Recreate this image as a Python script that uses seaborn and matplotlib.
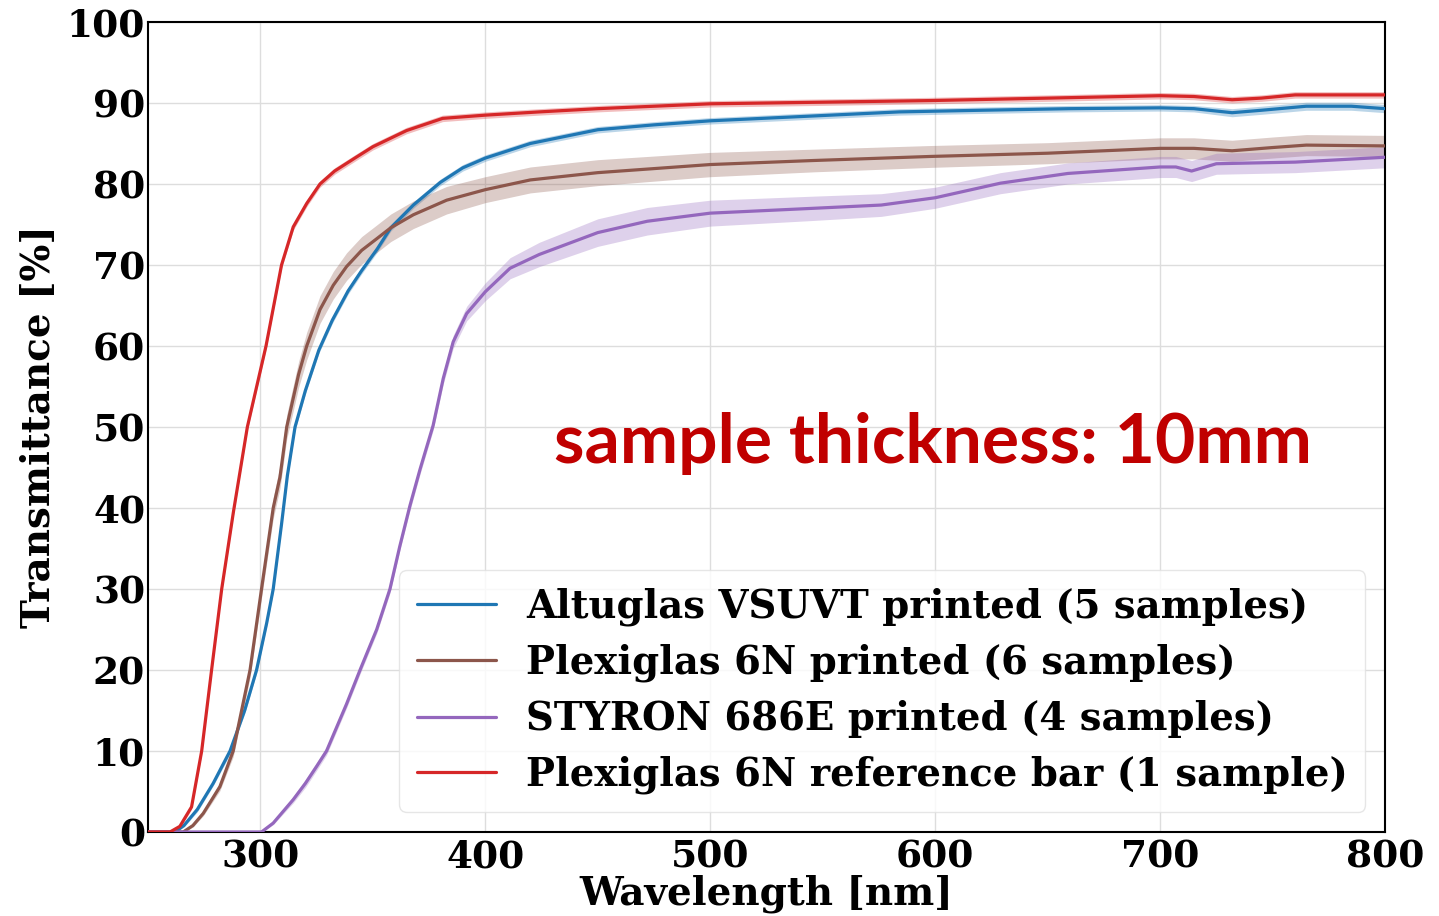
import numpy as np
import pandas as pd
import matplotlib
matplotlib.use("Agg")
import matplotlib.pyplot as plt
import seaborn as sns

# ---------------- data ----------------
labels = [
    "Altuglas VSUVT printed (5 samples)",
    "Plexiglas 6N printed (6 samples)",
    "STYRON 686E printed (4 samples)",
    "Plexiglas 6N reference bar (1 sample)",
]
colors = ["#1f77b4", "#8c564b", "#9467bd", "#d62728"]

alt_x = [250, 262, 266, 272, 279, 286.5, 293, 298.3, 302.8, 305.7, 309.4, 312, 315.4, 320, 326,
         332, 339, 345, 352, 358, 368, 380, 390, 400, 420, 450, 475, 500, 546, 584, 620, 660,
         700, 715, 732, 745, 765, 785, 800]
alt_y = [0, 0, 0.8, 2.8, 6, 10, 15, 20, 25.8, 30, 38, 44, 50, 54.5, 59.5,
         63.2, 66.8, 69.3, 72.0, 74.6, 77.4, 80.2, 82, 83.2, 85.0, 86.7, 87.3, 87.8, 88.4, 88.9, 89.1, 89.3,
         89.4, 89.3, 88.8, 89.1, 89.6, 89.6, 89.3]
alt_err = [0, 0, 0.2, 0.3, 0.3, 0.4, 0.4, 0.4, 0.4, 0.4, 0.4, 0.4, 0.4, 0.4, 0.4,
           0.4, 0.4, 0.4, 0.4, 0.4, 0.4, 0.4, 0.4, 0.4, 0.4, 0.4, 0.4, 0.4, 0.4, 0.4, 0.4, 0.4,
           0.4, 0.4, 0.5, 0.5, 0.5, 0.5, 0.5]

plx_x = [250, 265.7, 270, 274.6, 282, 287.9, 295.4, 300.5, 305.7, 308.7, 311.7, 317, 320.6, 326.5,
         332.4, 338.3, 345, 352, 358, 368, 382.8, 400, 420, 450, 500, 546, 598, 650, 700, 715,
         732, 750, 765, 800]
plx_y = [0, 0, 0.8, 2.3, 5.6, 10, 20, 30, 40, 43.8, 50, 56.5, 60, 64.5,
         67.5, 69.8, 71.8, 73.3, 74.6, 76.2, 78.0, 79.3, 80.5, 81.4, 82.4, 82.9, 83.4, 83.8, 84.4, 84.4,
         84.1, 84.5, 84.8, 84.7]
plx_err = [0, 0, 0.2, 0.3, 0.5, 0.7, 0.9, 1.1, 1.3, 1.4, 1.5, 1.6, 1.7, 1.7,
           1.7, 1.7, 1.7, 1.7, 1.7, 1.7, 1.7, 1.6, 1.6, 1.6, 1.5, 1.4, 1.35, 1.3, 1.3, 1.3,
           1.3, 1.3, 1.3, 1.3]

sty_x = [250, 300.5, 305.7, 314.6, 320, 325, 329.4, 338.3, 344.3, 351.7, 357.6, 362, 366.5, 371,
         376.8, 381.3, 385.7, 391.7, 400, 411, 424, 450, 472, 500, 546, 576, 600, 629, 659, 700,
         707, 714, 725, 742, 760, 780, 800]
sty_y = [0, 0, 1.1, 4, 6, 8.1, 10, 15.8, 20, 25, 30, 35.3, 40.3, 44.8,
         50.2, 56, 60.5, 64, 66.7, 69.6, 71.3, 74, 75.4, 76.4, 77, 77.4, 78.3, 80.1, 81.3, 82.1,
         82.1, 81.6, 82.5, 82.6, 82.7, 83.0, 83.3]
sty_err = [0, 0, 0.2, 0.4, 0.5, 0.5, 0.5, 0.5, 0.5, 0.5, 0.5, 0.5, 0.6, 0.6,
           0.6, 0.7, 0.8, 0.9, 1.1, 1.3, 1.5, 1.7, 1.7, 1.6, 1.5, 1.4, 1.3, 1.3, 1.3, 1.3,
           1.3, 1.3, 1.3, 1.3, 1.3, 1.3, 1.3]

ref_x = [250, 259.8, 264.2, 269.4, 273.9, 278.3, 282.8, 288, 294.2, 302.5, 309.4, 314.6,
         320.6, 326.5, 333, 342, 350, 365, 381, 400, 424, 450, 500, 550, 598, 650, 700, 715, 732,
         745, 760, 800]
ref_y = [0, 0, 0.7, 3.1, 10, 20, 30, 39.5, 50, 60, 70, 74.7,
         77.6, 80, 81.6, 83.2, 84.6, 86.6, 88.1, 88.5, 88.9, 89.3, 89.9, 90.1, 90.3, 90.6, 90.9, 90.8, 90.4,
         90.6, 91.0, 91.0]
ref_err = [0, 0, 0.2, 0.3, 0.4, 0.4, 0.4, 0.4, 0.4, 0.4, 0.4, 0.4,
           0.4, 0.4, 0.4, 0.4, 0.4, 0.4, 0.4, 0.4, 0.4, 0.4, 0.4, 0.4, 0.4, 0.4, 0.4, 0.4, 0.4,
           0.4, 0.4, 0.4]

x_ticks = [300, 400, 500, 600, 700, 800]
y_ticks = [0, 10, 20, 30, 40, 50, 60, 70, 80, 90, 100]
annotation = "sample thickness: 10mm"

# ---------------- build table ----------------
series = [(alt_x, alt_y, alt_err), (plx_x, plx_y, plx_err),
          (sty_x, sty_y, sty_err), (ref_x, ref_y, ref_err)]
frames = []
for lab, (xs, ys, es) in zip(labels, series):
    frames.append(pd.DataFrame({"Wavelength": xs, "T": ys, "err": es, "Material": lab}))
df = pd.concat(frames, ignore_index=True)

# ---------------- plot ----------------
sns.set_theme(style="whitegrid")
plt.rcParams["font.family"] = ["DejaVu Serif"]
plt.rcParams["font.weight"] = "bold"
for k in ["text.color", "axes.labelcolor", "xtick.color", "ytick.color"]:
    plt.rcParams[k] = "black"

fig = plt.figure(figsize=(14.39, 9.16), dpi=100)
ax = fig.add_axes([0.1028, 0.0917, 0.8597, 0.8843])

palette = dict(zip(labels, colors))
for lab in labels:
    sub = df[df["Material"] == lab]
    ax.fill_between(sub["Wavelength"], sub["T"] - sub["err"], sub["T"] + sub["err"],
                    color=palette[lab], alpha=0.3, lw=0, zorder=2)

sns.lineplot(data=df, x="Wavelength", y="T", hue="Material", hue_order=labels,
             palette=palette, estimator=None, linewidth=2.3, ax=ax, zorder=3)

leg0 = ax.get_legend()
handles = leg0.legend_handles
texts = [t.get_text() for t in leg0.get_texts()]
leg0.remove()
for h in handles:
    h.set_linewidth(2.3)
leg = ax.legend(handles, texts, loc="lower right", bbox_to_anchor=(0.984, 0.025),
                borderaxespad=0, handlelength=2.05, handletextpad=0.78,
                labelspacing=0.46, borderpad=0.45, frameon=True, framealpha=0.8, edgecolor="0.88",
                prop={"weight": "bold", "size": 27.8})
for t in leg.get_texts():
    t.set_color("black")

ax.set_xlim(250, 800)
ax.set_ylim(0, 100)
ax.set_xticks(x_ticks)
ax.set_yticks(y_ticks)
ax.tick_params(axis="both", labelsize=27, length=0)
ax.tick_params(axis="x", pad=5)
ax.tick_params(axis="y", pad=2)
for t in ax.get_xticklabels() + ax.get_yticklabels():
    t.set_fontweight("bold")

ax.set_xlabel("Wavelength [nm]", fontsize=28, fontweight="bold", labelpad=-1)
ax.set_ylabel("Transmittance [%]", fontsize=28, fontweight="bold", labelpad=6)

ax.grid(True, color="#dddddd", linewidth=1.0)
for s in ax.spines.values():
    s.set_color("black")
    s.set_linewidth(1.5)

ax.text(599, 45.6, annotation, color="#C00000", fontsize=50, fontweight="bold",
        family=["Lato", "DejaVu Sans"], ha="center", va="baseline", zorder=5)

fig.savefig("out.png", dpi=100)
